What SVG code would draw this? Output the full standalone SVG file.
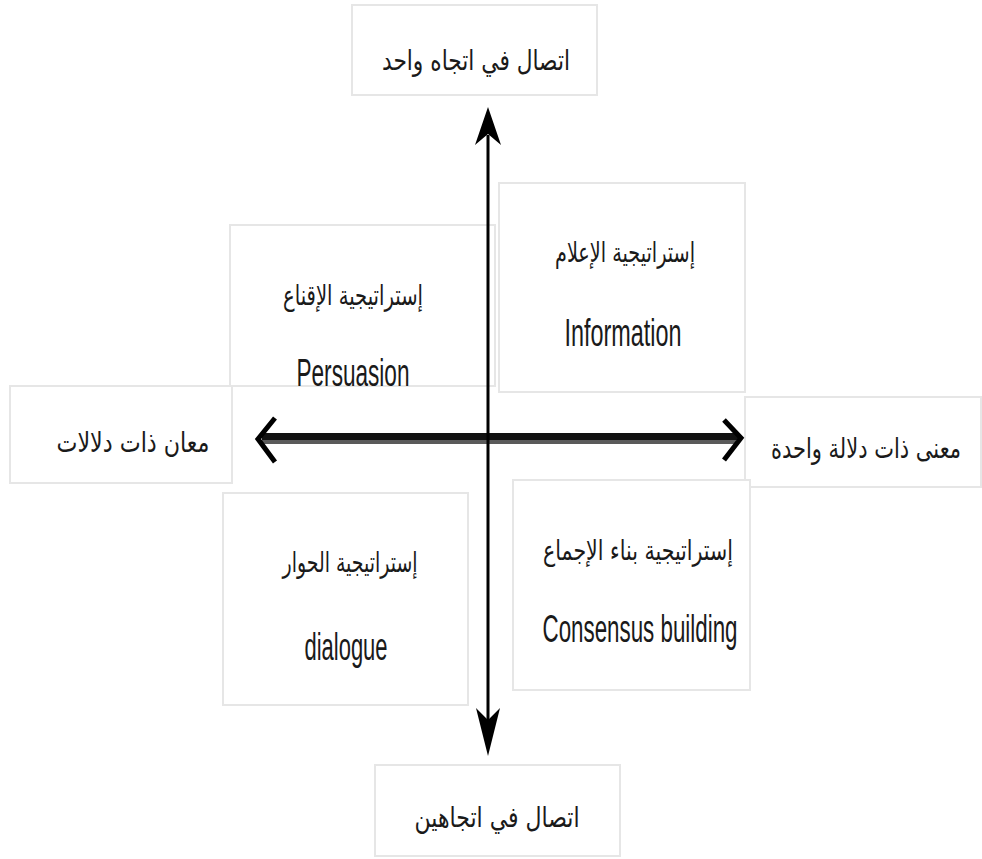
<svg xmlns="http://www.w3.org/2000/svg" width="982" height="859" viewBox="0 0 982 859">
<defs>
<style>
.box{fill:#ffffff;stroke:#e6e6e6;stroke-width:2}
.ar{font-family:"DejaVu Sans",sans-serif;font-size:28px;fill:#1a1a1a;text-anchor:middle}
.en{font-family:"Liberation Sans",Arial,sans-serif;font-size:38px;fill:#1a1a1a;text-anchor:middle}
.ax{stroke:#000;fill:none}
</style>
</defs>
<rect width="982" height="859" fill="#ffffff"/>

<g id="top-label">
<rect class="box" x="352" y="5" width="245" height="90"/>
<text class="ar" x="476" y="70" textLength="188" lengthAdjust="spacingAndGlyphs">اتصال في اتجاه واحد</text>
</g>

<g id="persuasion">
<rect class="box" x="230" y="225" width="265" height="161"/>
<text class="ar" x="353" y="305" textLength="140" lengthAdjust="spacingAndGlyphs">إستراتيجية الإقناع</text>
<text class="en" x="353" y="386" textLength="113" lengthAdjust="spacingAndGlyphs">Persuasion</text>
</g>

<g id="left-label">
<rect class="box" x="10" y="386" width="222" height="97"/>
<text class="ar" x="133" y="452" textLength="153" lengthAdjust="spacingAndGlyphs">معان ذات دلالات</text>
</g>

<g id="right-label">
<rect class="box" x="745" y="397" width="236" height="90"/>
<text class="ar" x="866" y="458" font-size="22" textLength="190" lengthAdjust="spacingAndGlyphs">معنى ذات دلالة واحدة</text>
</g>

<g id="bottom-label">
<rect class="box" x="375" y="765" width="245" height="91"/>
<text class="ar" x="497" y="827" textLength="165" lengthAdjust="spacingAndGlyphs">اتصال في اتجاهين</text>
</g>

<g id="information">
<rect class="box" x="499" y="183" width="246" height="209"/>
<text class="ar" x="625" y="262" textLength="140" lengthAdjust="spacingAndGlyphs">إستراتيجية الإعلام</text>
<text class="en" x="623" y="346" textLength="117" lengthAdjust="spacingAndGlyphs">Information</text>
</g>

<g id="dialogue">
<rect class="box" x="223" y="493" width="245" height="212"/>
<text class="ar" x="350" y="572" textLength="135" lengthAdjust="spacingAndGlyphs">إستراتيجية الحوار</text>
<text class="en" x="346" y="660" textLength="83" lengthAdjust="spacingAndGlyphs">dialogue</text>
</g>

<g id="consensus">
<rect class="box" x="513" y="480" width="237" height="210"/>
<text class="ar" x="638" y="560" textLength="190" lengthAdjust="spacingAndGlyphs">إستراتيجية بناء الإجماع</text>
<text class="en" x="640" y="642" textLength="195" lengthAdjust="spacingAndGlyphs">Consensus building</text>
</g>

<g id="connectors">
<line x1="262" y1="436.5" x2="738" y2="436.5" stroke="#111" stroke-width="7"/>
<line x1="262" y1="442" x2="736" y2="442" stroke="#5a5a5a" stroke-width="4"/>
<polyline class="ax" points="724,420 741,438 724,460" stroke-width="5"/>
<polyline class="ax" points="275,418 258,439 275,462" stroke-width="5"/>
<line x1="488" y1="135" x2="488" y2="720" stroke="#000" stroke-width="3"/>
<polygon points="488,107 501,145 488,134 475,145" fill="#000"/>
<polygon points="488,756 500,708 488,720 476,708" fill="#000"/>
</g>
</svg>
